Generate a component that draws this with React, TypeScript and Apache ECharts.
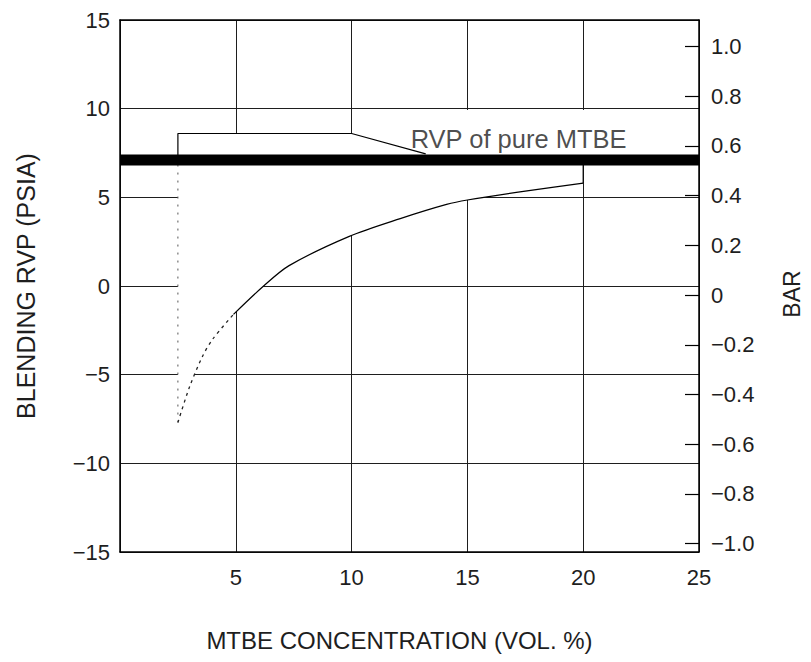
import React, { useEffect, useRef } from 'react';
import * as echarts from 'echarts';

// MTBE concentration (vol. %) and blending RVP (psia)
const curveX = [2.5, 3.0, 3.55, 4.0, 4.9, 6.2, 7.3, 9.9, 12.1, 14.1, 15.0, 17.5, 20.0];
const curvePsi = [-7.7, -5.7, -4.0, -3.0, -1.6, 0.0, 1.15, 2.8, 3.8, 4.6, 4.85, 5.35, 5.8];
const DOTTED_UNTIL = 4; // index where the faint (dotted) part of the curve ends

const PURE_MTBE_RVP = 7.1; // psia, thick line
const pureX = [0, 25];

// leader line of the "RVP of pure MTBE" callout
const leaderX = [2.5, 2.5, 10, 13.2];
const leaderPsi = [PURE_MTBE_RVP, 8.6, 8.6, 7.45];
const LABEL_X = 12.55;
const LABEL_PSI = 8.3;
const LABEL_TEXT = 'RVP of pure MTBE';

// white areas of the original drawing (grid hidden)
const BOX_TOP = 8.6;
const LABEL_BOX_TOP = 9.93;
const LABEL_BOX_LEFT = 10.12;

const psiTicks = [-15, -10, -5, 0, 5, 10, 15];
const barTicks = [-1.0, -0.8, -0.6, -0.4, -0.2, 0, 0.2, 0.4, 0.6, 0.8, 1.0];
const xTicks = [5, 10, 15, 20, 25];
const BAR_MIN = -1.034;
const BAR_MAX = 1.107;

const FONT = '"Liberation Sans", Arial, Helvetica, sans-serif';
const INK = '#1e1e1e';

const minus = (s: string) => s.replace('-', '\u2212');

function maskSeries(points: number[][]) {
  return {
    type: 'custom',
    coordinateSystem: 'cartesian2d',
    xAxisIndex: 0,
    yAxisIndex: 0,
    silent: true,
    z: 1,
    data: [[0, 0]],
    renderItem: (_p: any, api: any) => ({
      type: 'polygon',
      shape: { points: points.map((p) => api.coord(p)) },
      style: { fill: '#ffffff', stroke: 'none' },
    }),
  };
}

export default function App() {
  const ref = useRef<HTMLDivElement>(null);
  useEffect(() => {
    if (!ref.current) return;
    const chart = echarts.init(ref.current, null, { renderer: 'svg' });
    const curve = curveX.map((x, i) => [x, curvePsi[i]]);
    const curveLow = curve.slice(0, DOTTED_UNTIL + 1);
    const curveHigh = curve.slice(DOTTED_UNTIL);
    const last = curve[curve.length - 1];
    const first = curve[0];

    const maskBelow = [
      ...curve,
      [last[0], PURE_MTBE_RVP],
      [first[0], PURE_MTBE_RVP],
    ];
    const maskAbove = [
      [first[0], PURE_MTBE_RVP],
      [first[0], BOX_TOP],
      [LABEL_BOX_LEFT, BOX_TOP],
      [LABEL_BOX_LEFT, LABEL_BOX_TOP],
      [25, LABEL_BOX_TOP],
      [25, PURE_MTBE_RVP],
    ];

    const txt = { fontFamily: FONT, color: INK };
    const lineBase = {
      type: 'line',
      xAxisIndex: 0,
      yAxisIndex: 0,
      symbol: 'none',
      silent: true,
      z: 3,
    };

    chart.setOption({
      animation: false,
      backgroundColor: '#ffffff',
      grid: { left: 120, width: 583, top: 20, height: 532, containLabel: false },
      xAxis: [
        {
          type: 'value',
          min: 0,
          max: 25,
          interval: 5,
          position: 'bottom',
          axisLine: { show: true, onZero: false, lineStyle: { color: '#000', width: 1.5 } },
          axisTick: { show: false },
          axisLabel: {
            ...txt,
            fontSize: 22,
            margin: 14,
            formatter: (v: number) => (xTicks.includes(v) ? String(v) : ''),
          },
          splitLine: { show: true, lineStyle: { color: INK, width: 1 } },
          name: 'MTBE CONCENTRATION (VOL. %)',
          nameLocation: 'middle',
          nameGap: 76,
          nameTextStyle: { ...txt, fontSize: 24, padding: [0, 20, 0, 0] },
        },
        {
          type: 'value',
          min: 0,
          max: 25,
          position: 'top',
          axisLine: { show: true, onZero: false, lineStyle: { color: '#000', width: 1.5 } },
          axisTick: { show: false },
          axisLabel: { show: false },
          splitLine: { show: false },
          z: 5,
        },
      ],
      yAxis: [
        {
          type: 'value',
          min: psiTicks[0],
          max: psiTicks[psiTicks.length - 1],
          interval: 5,
          position: 'left',
          axisLine: { show: true, onZero: false, lineStyle: { color: '#000', width: 1.5 } },
          axisTick: { show: false },
          axisLabel: {
            ...txt,
            fontSize: 22,
            margin: 10,
            formatter: (v: number) => minus(String(v)),
          },
          splitLine: { show: true, lineStyle: { color: INK, width: 1 } },
          name: 'BLENDING RVP (PSIA)',
          nameLocation: 'middle',
          nameRotate: 90,
          nameGap: 82,
          nameTextStyle: { ...txt, fontSize: 25 },
        },
        {
          type: 'value',
          min: BAR_MIN,
          max: BAR_MAX,
          position: 'right',
          axisLine: { show: true, onZero: false, lineStyle: { color: '#000', width: 1.5 } },
          axisTick: {
            show: true,
            inside: true,
            length: 14,
            customValues: barTicks,
            lineStyle: { color: '#000', width: 1.2 },
          },
          axisLabel: {
            ...txt,
            fontSize: 22,
            margin: 12,
            customValues: barTicks,
            formatter: (v: number) =>
              Math.abs(v) < 1e-9 ? '0' : minus(v.toFixed(1)),
          },
          splitLine: { show: false },
          name: 'BAR',
          nameLocation: 'middle',
          nameRotate: 90,
          nameGap: 81,
          nameTextStyle: { ...txt, fontSize: 23, padding: [0, 16, 0, 0] },
          z: 5,
        },
      ],
      series: [
        maskSeries(maskBelow),
        maskSeries(maskAbove),
        {
          ...lineBase,
          name: 'guide',
          data: [
            [first[0], first[1]],
            [first[0], PURE_MTBE_RVP],
          ],
          lineStyle: { color: '#555', width: 1, type: [2, 6] },
        },
        {
          ...lineBase,
          name: 'end',
          data: [
            [last[0], last[1]],
            [last[0], PURE_MTBE_RVP],
          ],
          lineStyle: { color: '#000', width: 1.2 },
        },
        {
          ...lineBase,
          name: 'curve-low',
          data: curveLow,
          smooth: 0.3,
          lineStyle: { color: '#222', width: 1.3, type: [3, 4] },
        },
        {
          ...lineBase,
          name: 'curve',
          data: curveHigh,
          smooth: 0.3,
          lineStyle: { color: '#000', width: 1.2 },
        },
        {
          ...lineBase,
          name: 'leader',
          data: leaderX.map((x, i) => [x, leaderPsi[i]]),
          lineStyle: { color: '#000', width: 1.2 },
        },
        {
          ...lineBase,
          name: 'pure MTBE',
          data: pureX.map((x) => [x, PURE_MTBE_RVP]),
          lineStyle: { color: '#000', width: 11, cap: 'butt' },
          z: 4,
        },
        {
          type: 'scatter',
          xAxisIndex: 0,
          yAxisIndex: 0,
          symbolSize: 0,
          silent: true,
          z: 4,
          data: [[LABEL_X, LABEL_PSI]],
          label: {
            show: true,
            position: 'right',
            distance: 0,
            formatter: LABEL_TEXT,
            ...txt,
            fontSize: 25.5,
          },
        },
      ],
    });
    return () => chart.dispose();
  }, []);
  return (
    <div
      ref={ref}
      style={{ position: 'fixed', left: 0, top: 0, width: 811, height: 662, background: '#fff' }}
    />
  );
}
